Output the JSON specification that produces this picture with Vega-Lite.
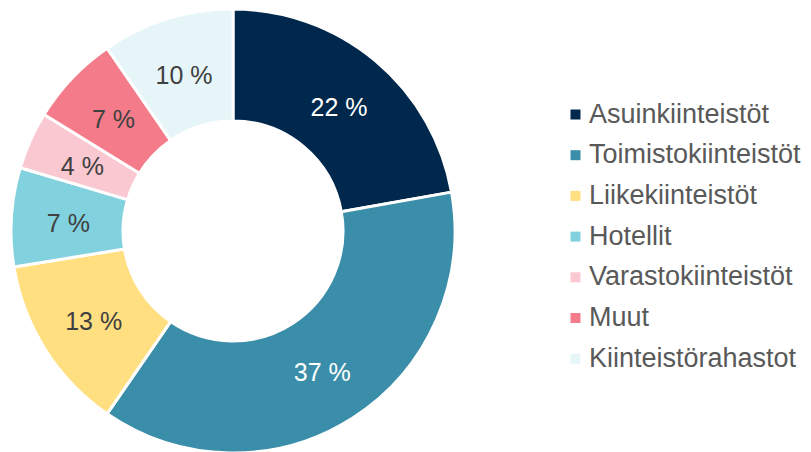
{
  "$schema": "https://vega.github.io/schema/vega-lite/v6.json",
  "width": 466,
  "height": 442,
  "autosize": {"type": "none"},
  "padding": {"top": 10, "left": 0, "right": 345, "bottom": 0},
  "background": "white",
  "config": {"view": {"stroke": null}},
  "data": {
    "values": [
      {"i": 1, "category": "Asuinkiinteistöt", "value": 22.2, "label": "22 %"},
      {"i": 2, "category": "Toimistokiinteistöt", "value": 37.4, "label": "37 %"},
      {"i": 3, "category": "Liikekiinteistöt", "value": 12.8, "label": "13 %"},
      {"i": 4, "category": "Hotellit", "value": 7.2, "label": "7 %"},
      {"i": 5, "category": "Varastokiinteistöt", "value": 4.2, "label": "4 %"},
      {"i": 6, "category": "Muut", "value": 6.6, "label": "7 %"},
      {"i": 7, "category": "Kiinteistörahastot", "value": 9.6, "label": "10 %"}
    ]
  },
  "encoding": {
    "theta": {"field": "value", "type": "quantitative", "stack": true},
    "order": {"field": "i", "type": "quantitative"}
  },
  "layer": [
    {
      "mark": {"type": "arc", "outerRadius": 222, "innerRadius": 110, "stroke": "white", "strokeWidth": 3},
      "encoding": {
        "color": {
          "field": "category",
          "type": "nominal",
          "sort": null,
          "scale": {
            "domain": ["Asuinkiinteistöt", "Toimistokiinteistöt", "Liikekiinteistöt", "Hotellit", "Varastokiinteistöt", "Muut", "Kiinteistörahastot"],
            "range": ["#00284D", "#3B8EA9", "#FFDF80", "#82D1DE", "#F9C8D0", "#F47C8A", "#E5F5F8"]
          },
          "legend": {
            "title": null,
            "orient": "none",
            "legendX": 562,
            "legendY": 91,
            "symbolType": "square",
            "symbolSize": 100,
            "symbolStrokeWidth": 0,
            "labelFont": "Liberation Sans",
            "labelFontSize": 27,
            "labelColor": "#595959",
            "labelOffset": 0,
            "rowPadding": 12.7,
            "labelLimit": 400
          }
        }
      }
    },
    {
      "mark": {"type": "text", "radius": 165, "fontSize": 25, "dy": 3, "font": "Liberation Sans"},
      "encoding": {
        "text": {"field": "label", "type": "nominal"},
        "color": {"condition": {"test": "datum.i <= 2", "value": "white"}, "value": "#404040"}
      }
    }
  ]
}
